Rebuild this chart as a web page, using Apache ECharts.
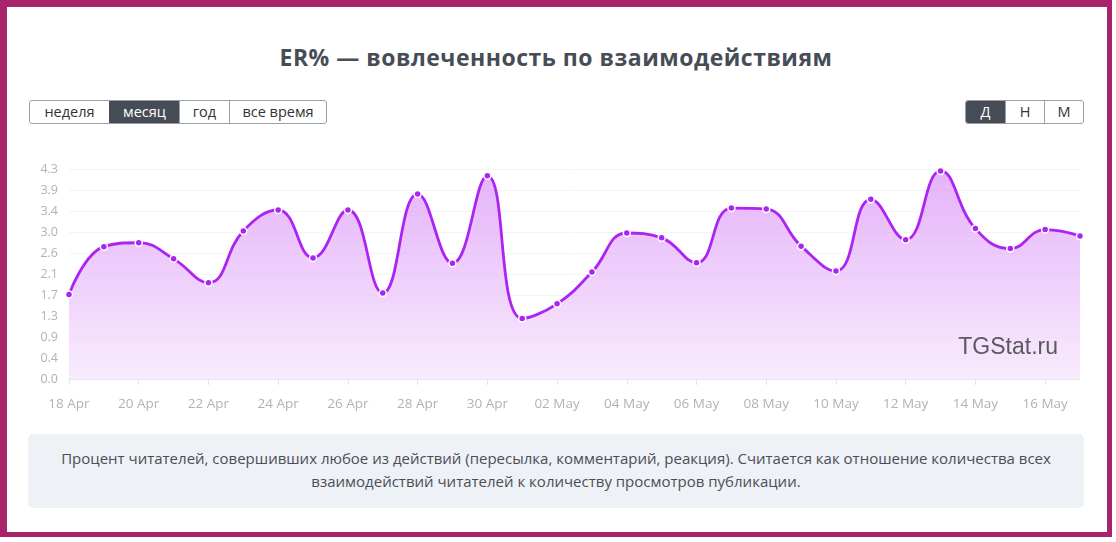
<!DOCTYPE html>
<html>
<head>
<meta charset="utf-8">
<script src="https://cdn.jsdelivr.net/npm/echarts@6/dist/echarts.min.js"></script>
<style>
  html, body { margin: 0; padding: 0; background: #fff; width: 1116px; height: 542px; overflow: hidden; font-family: "Open Sans", "Noto Sans", sans-serif; }
  #frame { position: absolute; left: 0; top: 0; width: 1112px; height: 537px; box-sizing: border-box;
           border-style: solid; border-color: #a8226c; border-width: 7px 5px 5px 7px; }
  #title { position: absolute; left: 0; top: 41px; width: 1112px; text-align: center; font-size: 23px; font-weight: 700; letter-spacing: 0.5px; color: #474d56; line-height: 32px; }
  .grp { position: absolute; top: 100px; height: 24px; display: flex; border: 1px solid #9aa0a7; border-radius: 3px; box-sizing: border-box; overflow: hidden; }
  .grp span { display: block; height: 22px; line-height: 22px; text-align: center; font-size: 14.5px; color: #333; border-left: 1px solid #9aa0a7; box-sizing: border-box; }
  .grp span:first-child { border-left: none; }
  .grp span.on { background: #474d56; color: #fff; border-color: #474d56; }
  #chart { position: absolute; left: 0; top: 130px; width: 1112px; height: 300px; }
  #note { position: absolute; left: 28px; top: 434px; width: 1056px; height: 74px; background: #eef1f6; border-radius: 5px;
          box-sizing: border-box; padding-top: 13px; text-align: center; font-size: 15px; line-height: 23px; color: #4a4f55; }
</style>
</head>
<body>
<div id="frame"></div>
<div id="title">ER% — вовлеченность по взаимодействиям</div>
<div class="grp" style="left:29px;width:298px;">
  <span style="width:79px">неделя</span><span class="on" style="width:70px">месяц</span><span style="width:50px">год</span><span style="width:97px">все время</span>
</div>
<div class="grp" style="left:965px;width:119px;">
  <span class="on" style="width:39px">Д</span><span style="width:39px">Н</span><span style="width:39px">М</span>
</div>
<div id="chart"></div>
<div id="note">Процент читателей, совершивших любое из действий (пересылка, комментарий, реакция). Считается как отношение количества всех<br>взаимодействий читателей к количеству просмотров публикации.</div>
<script>
var categories = ["18 Apr","19 Apr","20 Apr","21 Apr","22 Apr","23 Apr","24 Apr","25 Apr","26 Apr","27 Apr","28 Apr","29 Apr","30 Apr",
  "01 May","02 May","03 May","04 May","05 May","06 May","07 May","08 May","09 May","10 May","11 May","12 May","13 May","14 May","15 May","16 May","17 May"];
var erValues = [1.73, 2.71, 2.79, 2.46, 1.97, 3.03, 3.46, 2.48, 3.46, 1.76, 3.79, 2.37, 4.16,
  1.24, 1.54, 2.19, 2.99, 2.89, 2.38, 3.50, 3.48, 2.72, 2.21, 3.68, 2.85, 4.26, 3.08, 2.67, 3.06, 2.93];
var yMax = 4.3;
var yStep = 0.43;

var chart = echarts.init(document.getElementById('chart'));
chart.setOption({
  animation: false,
  grid: { left: 69, right: 32, top: 39, bottom: 51 },
  xAxis: {
    type: 'category', data: categories, boundaryGap: false,
    axisLine: { lineStyle: { color: '#e3e5e8' } },
    axisTick: { show: true, interval: 1, length: 6, lineStyle: { color: '#e3e5e8' } },
    axisLabel: { interval: 1, color: '#aeb3ba', fontSize: 13.5, margin: 18, fontFamily: 'Open Sans' }
  },
  yAxis: {
    type: 'value', min: 0, max: yMax, interval: yStep,
    axisLine: { show: false }, axisTick: { show: false },
    splitLine: { lineStyle: { color: '#f4f4f5' } },
    axisLabel: { color: '#aeb3ba', fontSize: 12.5, margin: 11, fontFamily: 'Open Sans',
      formatter: function (v) { return (Math.round(v * 100) / 100).toFixed(1); } }
  },
  graphic: [{
    type: 'text', right: 54, top: 206, z: 10,
    style: { text: 'TGStat.ru', fill: '#5a5a5e', font: '23px "Liberation Sans", Arial, sans-serif' }
  }],
  series: [{
    type: 'line', data: erValues, smooth: 0.45,
    symbol: 'circle', symbolSize: 7,
    lineStyle: { color: '#ab24f2', width: 2.8 },
    itemStyle: { color: '#ab24f2', borderColor: '#fff', borderWidth: 1.5 },
    areaStyle: {
      color: new echarts.graphic.LinearGradient(0, 0, 0, 1, [
        { offset: 0, color: '#d992f7' },
        { offset: 1, color: '#f5e2fc' }
      ])
    }
  }]
});
</script>
</body>
</html>
